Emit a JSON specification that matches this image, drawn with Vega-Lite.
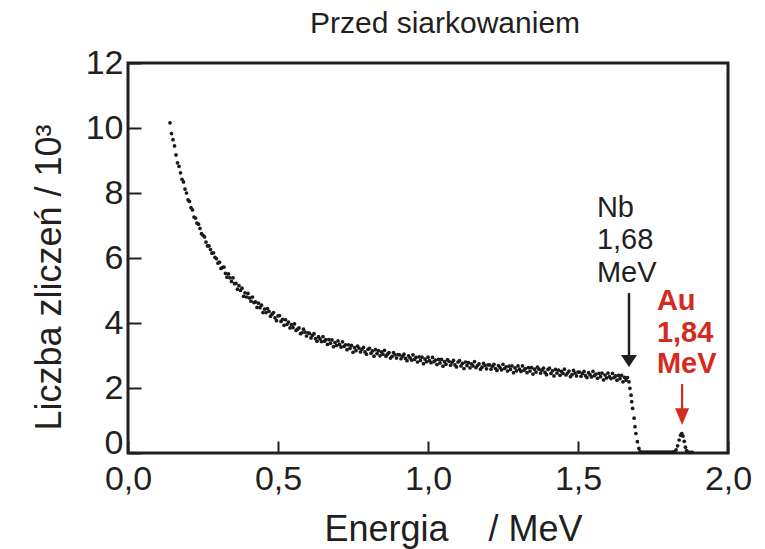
{
  "$schema": "https://vega.github.io/schema/vega-lite/v6.json",
  "width": 600,
  "height": 390,
  "autosize": "none",
  "padding": {"left": 128, "top": 63, "right": 37, "bottom": 96},
  "background": "white",
  "config": {
    "font": "Liberation Sans",
    "view": {"stroke": "#231f20", "strokeWidth": 3, "fill": "white"},
    "axis": {"domain": false, "grid": false, "tickColor": "#231f20", "tickWidth": 2, "labelColor": "#231f20", "titleColor": "#231f20", "labelFont": "Liberation Sans", "titleFont": "Liberation Sans", "titleFontWeight": "normal"}
  },
  "title": {"text": "Przed siarkowaniem", "font": "Liberation Sans", "fontSize": 30, "fontWeight": "normal", "color": "#231f20", "anchor": "middle", "frame": "group", "dx": 17, "offset": -17, "baseline": "alphabetic"},
  "datasets": {
    "spec": [
      {"e":0.140,"c":10.16},{"e":0.145,"c":9.83},{"e":0.150,"c":9.64},{"e":0.155,"c":9.45},{"e":0.160,"c":9.17},{"e":0.165,"c":8.93},{"e":0.170,"c":8.82},{"e":0.175,"c":8.62},{"e":0.180,"c":8.42},{"e":0.185,"c":8.34},
      {"e":0.190,"c":8.12},{"e":0.195,"c":8.00},{"e":0.200,"c":7.79},{"e":0.205,"c":7.74},{"e":0.210,"c":7.55},{"e":0.215,"c":7.48},{"e":0.220,"c":7.26},{"e":0.225,"c":7.23},{"e":0.230,"c":7.07},{"e":0.235,"c":7.04},
      {"e":0.240,"c":6.91},{"e":0.245,"c":6.75},{"e":0.250,"c":6.70},{"e":0.255,"c":6.65},{"e":0.260,"c":6.49},{"e":0.265,"c":6.37},{"e":0.270,"c":6.37},{"e":0.275,"c":6.26},{"e":0.280,"c":6.15},{"e":0.285,"c":6.16},
      {"e":0.290,"c":6.02},{"e":0.295,"c":5.98},{"e":0.300,"c":5.84},{"e":0.305,"c":5.87},{"e":0.310,"c":5.68},{"e":0.315,"c":5.71},{"e":0.320,"c":5.72},{"e":0.325,"c":5.53},{"e":0.330,"c":5.41},{"e":0.335,"c":5.51},
      {"e":0.340,"c":5.39},{"e":0.345,"c":5.28},{"e":0.350,"c":5.39},{"e":0.355,"c":5.21},{"e":0.360,"c":5.22},{"e":0.365,"c":5.04},{"e":0.370,"c":5.15},{"e":0.375,"c":5.00},{"e":0.380,"c":5.07},{"e":0.385,"c":4.82},
      {"e":0.390,"c":4.93},{"e":0.395,"c":4.80},{"e":0.400,"c":4.91},{"e":0.405,"c":4.77},{"e":0.410,"c":4.67},{"e":0.415,"c":4.80},{"e":0.420,"c":4.63},{"e":0.425,"c":4.65},{"e":0.430,"c":4.48},{"e":0.435,"c":4.61},
      {"e":0.440,"c":4.47},{"e":0.445,"c":4.55},{"e":0.450,"c":4.32},{"e":0.455,"c":4.43},{"e":0.460,"c":4.32},{"e":0.465,"c":4.44},{"e":0.470,"c":4.36},{"e":0.475,"c":4.21},{"e":0.480,"c":4.27},{"e":0.485,"c":4.32},
      {"e":0.490,"c":4.16},{"e":0.495,"c":4.07},{"e":0.500,"c":4.22},{"e":0.505,"c":4.23},{"e":0.510,"c":4.05},{"e":0.515,"c":4.11},{"e":0.520,"c":3.93},{"e":0.525,"c":4.10},{"e":0.530,"c":3.96},{"e":0.535,"c":4.03},
      {"e":0.540,"c":3.85},{"e":0.545,"c":3.95},{"e":0.550,"c":3.86},{"e":0.555,"c":3.97},{"e":0.560,"c":3.77},{"e":0.565,"c":3.81},{"e":0.570,"c":3.85},{"e":0.575,"c":3.67},{"e":0.580,"c":3.70},{"e":0.585,"c":3.81},
      {"e":0.590,"c":3.72},{"e":0.595,"c":3.60},{"e":0.600,"c":3.70},{"e":0.605,"c":3.68},{"e":0.610,"c":3.54},{"e":0.615,"c":3.62},{"e":0.620,"c":3.67},{"e":0.625,"c":3.52},{"e":0.630,"c":3.44},{"e":0.635,"c":3.58},
      {"e":0.640,"c":3.51},{"e":0.645,"c":3.43},{"e":0.650,"c":3.58},{"e":0.655,"c":3.44},{"e":0.660,"c":3.49},{"e":0.665,"c":3.34},{"e":0.670,"c":3.49},{"e":0.675,"c":3.38},{"e":0.680,"c":3.48},{"e":0.685,"c":3.27},
      {"e":0.690,"c":3.40},{"e":0.695,"c":3.31},{"e":0.700,"c":3.45},{"e":0.705,"c":3.34},{"e":0.710,"c":3.26},{"e":0.715,"c":3.42},{"e":0.720,"c":3.28},{"e":0.725,"c":3.33},{"e":0.730,"c":3.18},{"e":0.735,"c":3.33},
      {"e":0.740,"c":3.22},{"e":0.745,"c":3.31},{"e":0.750,"c":3.10},{"e":0.755,"c":3.24},{"e":0.760,"c":3.15},{"e":0.765,"c":3.29},{"e":0.770,"c":3.23},{"e":0.775,"c":3.11},{"e":0.780,"c":3.19},{"e":0.785,"c":3.25},
      {"e":0.790,"c":3.11},{"e":0.795,"c":3.04},{"e":0.800,"c":3.19},{"e":0.805,"c":3.22},{"e":0.810,"c":3.07},{"e":0.815,"c":3.14},{"e":0.820,"c":2.98},{"e":0.825,"c":3.18},{"e":0.830,"c":3.06},{"e":0.835,"c":3.15},
      {"e":0.840,"c":2.99},{"e":0.845,"c":3.11},{"e":0.850,"c":3.04},{"e":0.855,"c":3.16},{"e":0.860,"c":2.98},{"e":0.865,"c":3.04},{"e":0.870,"c":3.09},{"e":0.875,"c":2.92},{"e":0.880,"c":2.97},{"e":0.885,"c":3.09},
      {"e":0.890,"c":3.02},{"e":0.895,"c":2.92},{"e":0.900,"c":3.03},{"e":0.905,"c":3.02},{"e":0.910,"c":2.90},{"e":0.915,"c":2.98},{"e":0.920,"c":3.04},{"e":0.925,"c":2.91},{"e":0.930,"c":2.84},{"e":0.935,"c":2.99},
      {"e":0.940,"c":2.93},{"e":0.945,"c":2.86},{"e":0.950,"c":3.02},{"e":0.955,"c":2.88},{"e":0.960,"c":2.94},{"e":0.965,"c":2.80},{"e":0.970,"c":2.96},{"e":0.975,"c":2.85},{"e":0.980,"c":2.95},{"e":0.985,"c":2.75},
      {"e":0.990,"c":2.89},{"e":0.995,"c":2.81},{"e":1.000,"c":2.95},{"e":1.005,"c":2.84},{"e":1.010,"c":2.78},{"e":1.015,"c":2.94},{"e":1.020,"c":2.81},{"e":1.025,"c":2.86},{"e":1.030,"c":2.72},{"e":1.035,"c":2.88},
      {"e":1.040,"c":2.77},{"e":1.045,"c":2.88},{"e":1.050,"c":2.67},{"e":1.055,"c":2.81},{"e":1.060,"c":2.73},{"e":1.065,"c":2.87},{"e":1.070,"c":2.82},{"e":1.075,"c":2.70},{"e":1.080,"c":2.78},{"e":1.085,"c":2.85},
      {"e":1.090,"c":2.71},{"e":1.095,"c":2.65},{"e":1.100,"c":2.80},{"e":1.105,"c":2.84},{"e":1.110,"c":2.68},{"e":1.115,"c":2.76},{"e":1.120,"c":2.60},{"e":1.125,"c":2.80},{"e":1.130,"c":2.69},{"e":1.135,"c":2.78},
      {"e":1.140,"c":2.62},{"e":1.145,"c":2.74},{"e":1.150,"c":2.68},{"e":1.155,"c":2.81},{"e":1.160,"c":2.63},{"e":1.165,"c":2.69},{"e":1.170,"c":2.74},{"e":1.175,"c":2.58},{"e":1.180,"c":2.64},{"e":1.185,"c":2.76},
      {"e":1.190,"c":2.69},{"e":1.195,"c":2.59},{"e":1.200,"c":2.71},{"e":1.205,"c":2.71},{"e":1.210,"c":2.58},{"e":1.215,"c":2.67},{"e":1.220,"c":2.73},{"e":1.225,"c":2.60},{"e":1.230,"c":2.54},{"e":1.235,"c":2.69},
      {"e":1.240,"c":2.63},{"e":1.245,"c":2.56},{"e":1.250,"c":2.73},{"e":1.255,"c":2.60},{"e":1.260,"c":2.65},{"e":1.265,"c":2.52},{"e":1.270,"c":2.67},{"e":1.275,"c":2.57},{"e":1.280,"c":2.68},{"e":1.285,"c":2.47},
      {"e":1.290,"c":2.62},{"e":1.295,"c":2.53},{"e":1.300,"c":2.68},{"e":1.305,"c":2.58},{"e":1.310,"c":2.51},{"e":1.315,"c":2.68},{"e":1.320,"c":2.55},{"e":1.325,"c":2.60},{"e":1.330,"c":2.47},{"e":1.335,"c":2.63},
      {"e":1.340,"c":2.52},{"e":1.345,"c":2.63},{"e":1.350,"c":2.43},{"e":1.355,"c":2.58},{"e":1.360,"c":2.49},{"e":1.365,"c":2.64},{"e":1.370,"c":2.58},{"e":1.375,"c":2.46},{"e":1.380,"c":2.55},{"e":1.385,"c":2.61},
      {"e":1.390,"c":2.48},{"e":1.395,"c":2.41},{"e":1.400,"c":2.57},{"e":1.405,"c":2.61},{"e":1.410,"c":2.45},{"e":1.415,"c":2.53},{"e":1.420,"c":2.37},{"e":1.425,"c":2.57},{"e":1.430,"c":2.46},{"e":1.435,"c":2.55},
      {"e":1.440,"c":2.39},{"e":1.445,"c":2.51},{"e":1.450,"c":2.45},{"e":1.455,"c":2.58},{"e":1.460,"c":2.40},{"e":1.465,"c":2.46},{"e":1.470,"c":2.52},{"e":1.475,"c":2.35},{"e":1.480,"c":2.41},{"e":1.485,"c":2.54},
      {"e":1.490,"c":2.46},{"e":1.495,"c":2.37},{"e":1.500,"c":2.49},{"e":1.505,"c":2.49},{"e":1.510,"c":2.36},{"e":1.515,"c":2.45},{"e":1.520,"c":2.51},{"e":1.525,"c":2.38},{"e":1.530,"c":2.32},{"e":1.535,"c":2.47},
      {"e":1.540,"c":2.41},{"e":1.545,"c":2.34},{"e":1.550,"c":2.51},{"e":1.555,"c":2.38},{"e":1.560,"c":2.43},{"e":1.565,"c":2.30},{"e":1.570,"c":2.45},{"e":1.575,"c":2.35},{"e":1.580,"c":2.46},{"e":1.585,"c":2.25},
      {"e":1.590,"c":2.40},{"e":1.595,"c":2.31},{"e":1.600,"c":2.46},{"e":1.605,"c":2.35},{"e":1.610,"c":2.29},{"e":1.615,"c":2.45},{"e":1.620,"c":2.32},{"e":1.625,"c":2.37},{"e":1.630,"c":2.24},{"e":1.635,"c":2.39},
      {"e":1.640,"c":2.29},{"e":1.645,"c":2.39},{"e":1.650,"c":2.19},{"e":1.655,"c":2.33},{"e":1.660,"c":2.24},{"e":1.665,"c":2.32},
      {"e":1.670,"c":2.19},{"e":1.673,"c":1.99},{"e":1.677,"c":1.78},{"e":1.679,"c":1.58},{"e":1.682,"c":1.37},{"e":1.687,"c":1.07},{"e":1.690,"c":0.81},{"e":1.693,"c":0.60},{"e":1.698,"c":0.35},{"e":1.703,"c":0.14},{"e":1.707,"c":0.04},
      {"e":1.712,"c":0.03},{"e":1.717,"c":0.02},{"e":1.722,"c":0.03},{"e":1.727,"c":0.02},{"e":1.732,"c":0.03},{"e":1.737,"c":0.02},{"e":1.742,"c":0.03},{"e":1.747,"c":0.02},{"e":1.752,"c":0.03},{"e":1.757,"c":0.02},
      {"e":1.762,"c":0.03},{"e":1.767,"c":0.02},{"e":1.772,"c":0.03},{"e":1.777,"c":0.02},{"e":1.782,"c":0.03},{"e":1.787,"c":0.02},{"e":1.792,"c":0.03},{"e":1.797,"c":0.02},{"e":1.802,"c":0.03},{"e":1.807,"c":0.02},
      {"e":1.812,"c":0.03},{"e":1.817,"c":0.03},
      {"e":1.822,"c":0.04},{"e":1.827,"c":0.10},{"e":1.832,"c":0.22},{"e":1.837,"c":0.40},{"e":1.842,"c":0.55},{"e":1.846,"c":0.60},{"e":1.850,"c":0.52},{"e":1.854,"c":0.36},{"e":1.858,"c":0.18},{"e":1.862,"c":0.07},
      {"e":1.866,"c":0.03},{"e":1.871,"c":0.02},{"e":1.876,"c":0.02},{"e":1.881,"c":0.02}
    ],
    "ann": [
      {"g":"nb","x":1.563,"y":7.26,"t":"Nb"},
      {"g":"nb","x":1.563,"y":6.28,"t":"1,68"},
      {"g":"nb","x":1.563,"y":5.26,"t":"MeV"},
      {"g":"au","x":1.763,"y":4.40,"t":"Au"},
      {"g":"au","x":1.763,"y":3.42,"t":"1,84"},
      {"g":"au","x":1.763,"y":2.46,"t":"MeV"}
    ],
    "arrows": [
      {"g":"nb","x":1.67,"top":4.92,"bot":2.9,"head":2.83},
      {"g":"au","x":1.847,"top":2.12,"bot":1.2,"head":1.12}
    ]
  },
  "layer": [
    {
      "data": {"name": "spec"},
      "mark": {"type": "circle", "size": 14, "color": "#1a1a1a", "opacity": 1},
      "encoding": {
        "x": {"field": "e", "type": "quantitative", "scale": {"domain": [0, 2], "nice": false},
          "axis": {"values": [0, 0.5, 1, 1.5, 2], "tickSize": -12, "labelFontSize": 34, "labelPadding": 21, "labelExpr": "replace(format(datum.value, '.1f'), '.', ',')", "labelFlush": false,
            "title": "Energia\u00a0\u00a0\u00a0\u00a0/ MeV", "titleFontSize": 36, "titleX": 325, "titleY": 87, "titleBaseline": "alphabetic", "titleAlign": "center", "titleAnchor": null}},
        "y": {"field": "c", "type": "quantitative", "scale": {"domain": [0, 12], "nice": false},
          "axis": {"values": [0, 2, 4, 6, 8, 10, 12], "tickSize": -13, "labelFontSize": 34, "labelPadding": 18, "labelFlush": false,
            "labelBaseline": {"condition": {"test": "datum.value === 0", "value": "alphabetic"}, "value": "middle"},
            "title": "Liczba zliczeń / 10³", "titleFontSize": 36, "titleX": -68, "titleY": 214, "titleAngle": -90, "titleBaseline": "alphabetic", "titleAlign": "center"}}
      }
    },
    {
      "data": {"name": "arrows"},
      "transform": [{"filter": "datum.g === 'nb'"}],
      "mark": {"type": "rule", "color": "#231f20", "strokeWidth": 2.5},
      "encoding": {"x": {"field": "x", "type": "quantitative"}, "y": {"field": "top", "type": "quantitative"}, "y2": {"field": "bot"}}
    },
    {
      "data": {"name": "arrows"},
      "transform": [{"filter": "datum.g === 'nb'"}],
      "mark": {"type": "point", "shape": "M-1,-0.75L1,-0.75L0,0.75Z", "size": 256, "filled": true, "color": "#231f20", "opacity": 1},
      "encoding": {"x": {"field": "x", "type": "quantitative"}, "y": {"field": "head", "type": "quantitative"}}
    },
    {
      "data": {"name": "arrows"},
      "transform": [{"filter": "datum.g === 'au'"}],
      "mark": {"type": "rule", "color": "#d52b1e", "strokeWidth": 2.2},
      "encoding": {"x": {"field": "x", "type": "quantitative"}, "y": {"field": "top", "type": "quantitative"}, "y2": {"field": "bot"}}
    },
    {
      "data": {"name": "arrows"},
      "transform": [{"filter": "datum.g === 'au'"}],
      "mark": {"type": "point", "shape": "M-1,-1.2L1,-1.2L0,1.2Z", "size": 196, "filled": true, "color": "#d52b1e", "opacity": 1},
      "encoding": {"x": {"field": "x", "type": "quantitative"}, "y": {"field": "head", "type": "quantitative"}}
    },
    {
      "data": {"name": "ann"},
      "transform": [{"filter": "datum.g === 'nb'"}],
      "mark": {"type": "text", "align": "left", "baseline": "alphabetic", "font": "Liberation Sans", "fontSize": 29, "color": "#231f20"},
      "encoding": {"x": {"field": "x", "type": "quantitative"}, "y": {"field": "y", "type": "quantitative"}, "text": {"field": "t"}}
    },
    {
      "data": {"name": "ann"},
      "transform": [{"filter": "datum.g === 'au'"}],
      "mark": {"type": "text", "align": "left", "baseline": "alphabetic", "font": "Liberation Sans", "fontSize": 29, "fontWeight": "bold", "color": "#d52b1e"},
      "encoding": {"x": {"field": "x", "type": "quantitative"}, "y": {"field": "y", "type": "quantitative"}, "text": {"field": "t"}}
    }
  ]
}
